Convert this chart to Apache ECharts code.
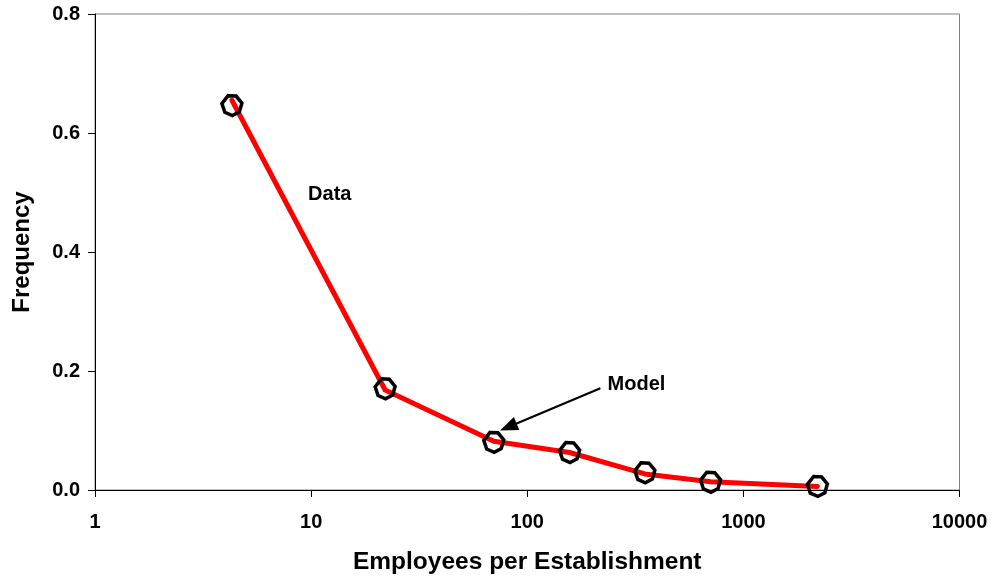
<!DOCTYPE html>
<html><head><meta charset="utf-8">
<script src="https://cdn.jsdelivr.net/npm/echarts@6/dist/echarts.min.js"></script>
<style>html,body{margin:0;background:#fff}#c{width:995px;height:583px}</style>
</head><body><div id="c"></div>
<script>
// Establishment size bins (employees, bin centre on a log scale)
const sizes = [4.3, 22, 70, 157, 350, 705, 2200];
// Observed frequency per bin
const dataFreq = [0.655, 0.168, 0.082, 0.063, 0.027, 0.014, 0.006];
// Model frequency per bin
const modelFreq = [0.646, 0.170, 0.080, 0.063, 0.029, 0.013, 0.006];
// Annotation anchors [employees, frequency]
const dataLabelAt = [12.2, 0.496];
const modelLabelAt = [320, 0.178];
const modelArrowFrom = [218, 0.171];
const modelArrowTo = [81.7, 0.106];

const FONT = '"Liberation Sans", Arial, sans-serif';
const chart = echarts.init(document.getElementById('c'), null, {renderer: 'canvas'});

const hexPath = 'path://M32,2 L70,4 L98,38 L86,80 L52,98 L16,82 L2,40 Z';

chart.setOption({
  animation: false,
  backgroundColor: '#ffffff',
  grid: {left: 95, right: 35.5, top: 14, bottom: 93, show: true,
         borderColor: '#808080', borderWidth: 1, backgroundColor: 'transparent'},
  xAxis: {
    type: 'log', logBase: 10, min: 1, max: 10000,
    name: 'Employees per Establishment', nameLocation: 'middle', nameGap: 60,
    nameTextStyle: {fontFamily: FONT, fontWeight: 'bold', fontSize: 24.5, color: '#000'},
    axisLine: {lineStyle: {color: '#000', width: 1}},
    axisTick: {show: true, inside: false, length: 7, lineStyle: {color: '#000'}},
    minorTick: {show: false},
    splitLine: {show: false},
    axisLabel: {margin: 22, fontFamily: FONT, fontWeight: 'bold', fontSize: 20, color: '#000',
                formatter: v => String(Math.round(v))}
  },
  yAxis: {
    type: 'value', min: 0, max: 0.8, interval: 0.2,
    name: 'Frequency', nameLocation: 'middle', nameGap: 61, nameRotate: 90,
    nameTextStyle: {fontFamily: FONT, fontWeight: 'bold', fontSize: 24, color: '#000'},
    axisLine: {show: true, lineStyle: {color: '#000', width: 1}},
    axisTick: {show: true, inside: false, length: 7, lineStyle: {color: '#000'}},
    splitLine: {show: false},
    axisLabel: {margin: 15, fontFamily: FONT, fontWeight: 'bold', fontSize: 20, color: '#000',
                formatter: v => v.toFixed(1)}
  },
  series: [
    {
      name: 'Data', type: 'line',
      data: sizes.map((x, i) => [x, dataFreq[i]]),
      showSymbol: false, symbol: 'none',
      lineStyle: {color: '#ff0000', width: 5, join: 'round', cap: 'round'},
      z: 2,
      markPoint: {
        symbol: 'rect', symbolSize: 1, itemStyle: {color: 'rgba(0,0,0,0)'},
        label: {show: true, position: 'inside', fontFamily: FONT, fontWeight: 'bold',
                fontSize: 20, color: '#000', formatter: p => p.name},
        data: [
          {name: 'Data', coord: dataLabelAt},
          {name: 'Model', coord: modelLabelAt}
        ]
      },
      markLine: {
        silent: true, symbol: ['none', 'triangle'], symbolSize: [14, 18],
        label: {show: false},
        lineStyle: {color: '#000', width: 2.2, type: 'solid'},
        data: [[{coord: modelArrowFrom}, {coord: modelArrowTo}]]
      }
    },
    {
      name: 'Model', type: 'line',
      data: sizes.map((x, i) => [x, modelFreq[i]]),
      lineStyle: {width: 0, opacity: 0},
      symbol: hexPath, symbolSize: 20, showSymbol: true,
      itemStyle: {color: 'rgba(0,0,0,0)', borderColor: '#000', borderWidth: 3.5},
      z: 3
    }
  ]
});
</script></body></html>
